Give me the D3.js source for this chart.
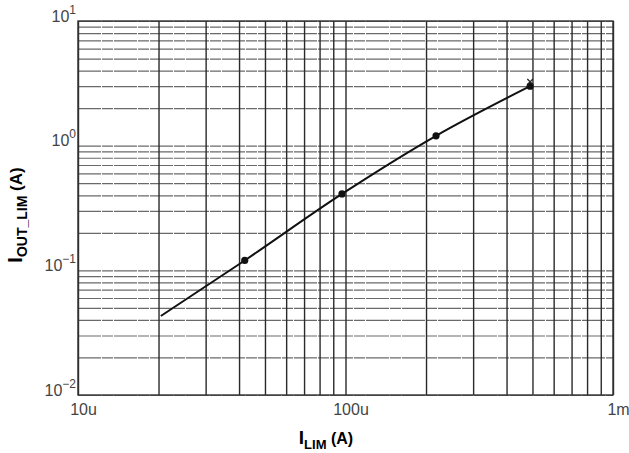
<!DOCTYPE html>
<html>
<head>
<meta charset="utf-8">
<script src="https://cdn.jsdelivr.net/npm/d3@7"></script>
<style>
  body { margin: 0; background: #fff; }
  svg { display: block; }
  .lbl { font-family: "Liberation Sans", Arial, sans-serif; fill: #444; }
  .title { font-family: "Liberation Sans", Arial, sans-serif; font-weight: bold; fill: #000; }
</style>
</head>
<body>
<svg width="629" height="453"></svg>
<script>
// measured points (I_LIM in A, I_OUT_LIM in A)
var limCurrent = [42e-6, 97e-6, 218e-6, 490e-6];
var outCurrent = [0.12, 0.41, 1.2, 3.0];
// fitted curve drawn through the points
var curveLim = [20.4e-6, 42e-6, 97e-6, 218e-6, 490e-6];
var curveOut = [0.043, 0.12, 0.41, 1.2, 3.0];
// small cross marker at the last point
var crossLim = [490e-6];
var crossOut = [3.25];
// tick labels
var xMajor = [1e-5, 1e-4, 1e-3];
var xMajorLabels = ['10u', '100u', '1m'];
var yMajor = [10, 1, 0.1, 0.01];
var yMajorExp = ['1', '0', '\u22121', '\u22122'];

var svg = d3.select('svg'),
    plotLeft = 78, plotRight = 613, plotTop = 21, plotBottom = 395;

var x = d3.scaleLog().domain([1e-5, 1e-3]).range([plotLeft, plotRight]),
    y = d3.scaleLog().domain([1e-2, 10]).range([plotBottom, plotTop]);

// horizontal grid (lighter, scanned look)
svg.append('g')
    .attr('transform', 'translate(' + plotLeft + ',0)')
    .call(d3.axisLeft(y).tickSize(-(plotRight - plotLeft)).tickFormat(''))
    .call(function(g) {
      g.select('.domain').remove();
      g.selectAll('line').attr('stroke', '#6a6a6a').attr('stroke-width', 1.2)
        .attr('stroke-dasharray', '23,1,11,1');
    });

// vertical grid
svg.append('g')
    .attr('transform', 'translate(0,' + plotBottom + ')')
    .call(d3.axisBottom(x).tickSize(-(plotBottom - plotTop)).tickFormat(''))
    .call(function(g) {
      g.select('.domain').remove();
      g.selectAll('line').attr('stroke', '#2a2a2a').attr('stroke-width', 1.4);
    });

// frame
svg.append('rect')
    .attr('x', plotLeft).attr('y', plotTop)
    .attr('width', plotRight - plotLeft).attr('height', plotBottom - plotTop)
    .attr('fill', 'none').attr('stroke', '#333').attr('stroke-width', 1.4);

// x tick labels
svg.append('g')
    .attr('transform', 'translate(0,' + plotBottom + ')')
    .call(d3.axisBottom(x).tickValues(xMajor).tickSize(0).tickPadding(9)
      .tickFormat(function(d, i) { return xMajorLabels[i]; }))
    .call(function(g) {
      g.select('.domain').remove();
      g.selectAll('text').attr('class', 'lbl').attr('font-size', 16)
        .attr('font-family', null).attr('fill', null).attr('dx', 5);
    });

// y tick labels (10 with superscript exponent)
var yAx = svg.append('g')
    .attr('transform', 'translate(' + plotLeft + ',0)')
    .call(d3.axisLeft(y).tickValues(yMajor).tickSize(0).tickPadding(2).tickFormat(''));
yAx.select('.domain').remove();
yAx.selectAll('text')
    .attr('class', 'lbl').attr('font-family', null).attr('fill', null)
    .attr('font-size', 16).attr('dy', 0)
    .each(function(d, i) {
      var t = d3.select(this);
      t.append('tspan').text('10');
      t.append('tspan').attr('font-size', 12).attr('dy', -8).text(yMajorExp[i]);
    });

// curve
var curveData = curveLim.map(function(d, i) { return [d, curveOut[i]]; });
svg.append('path')
    .datum(curveData)
    .attr('fill', 'none')
    .attr('stroke', '#111')
    .attr('stroke-width', 2)
    .attr('d', d3.line()
      .x(function(d) { return x(d[0]); })
      .y(function(d) { return y(d[1]); })
      .curve(d3.curveMonotoneX));

// points
svg.append('g').selectAll('circle')
    .data(limCurrent)
    .enter().append('circle')
    .attr('cx', function(d) { return x(d); })
    .attr('cy', function(d, i) { return y(outCurrent[i]); })
    .attr('r', 3.6)
    .attr('fill', '#111');

// cross marker
svg.append('g').selectAll('path')
    .data(crossLim)
    .enter().append('path')
    .attr('d', d3.symbol().type(d3.symbolX).size(22))
    .attr('transform', function(d, i) { return 'translate(' + x(d) + ',' + y(crossOut[i]) + ')'; })
    .attr('stroke', '#222').attr('stroke-width', 1.3).attr('fill', 'none');

// axis titles
var xt = svg.append('text').attr('class', 'title')
    .attr('x', 326).attr('y', 444).attr('text-anchor', 'middle');
xt.append('tspan').attr('font-size', 19).text('I');
xt.append('tspan').attr('font-size', 13).attr('dy', 5).text('LIM');
xt.append('tspan').attr('font-size', 16).attr('dy', -5).text(' (A)');

var yt = svg.append('text').attr('class', 'title')
    .attr('transform', 'translate(22,215) rotate(-90)')
    .attr('text-anchor', 'middle');
yt.append('tspan').attr('font-size', 20).text('I');
yt.append('tspan').attr('font-size', 14).attr('dy', 5).text('OUT_LIM');
yt.append('tspan').attr('font-size', 17).attr('dy', -5).text(' (A)');
</script>
</body>
</html>
